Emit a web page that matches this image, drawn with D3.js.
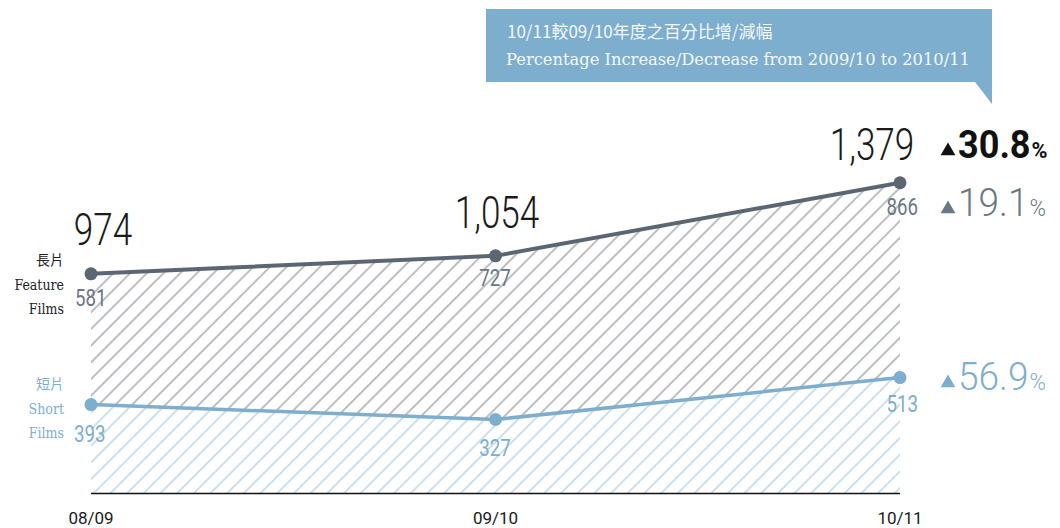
<!DOCTYPE html>
<html>
<head>
<meta charset="utf-8">
<script src="https://cdn.jsdelivr.net/npm/d3@7"></script>
<style>
  html, body { margin: 0; padding: 0; background: #fff; }
  svg { display: block; }
</style>
</head>
<body>
<svg id="chart" width="1060" height="528"></svg>
<script>
// Film counts by year
const periods = ["08/09", "09/10", "10/11"];
const featureFilms = [581, 727, 866];
const shortFilms = [393, 327, 513];
const totals = [974, 1054, 1379];
const totalLabels = ["974", "1,054", "1,379"];
const changePct = { total: "30.8", feature: "19.1", short: "56.9" };

const DARK = "#5b6672";
const DARK_TEXT = "#6a7784";
const LIGHT = "#7eaece";
const NUM_FONT = "Roboto, 'Noto Sans', sans-serif";
const SERIF = "'DejaVu Serif', serif";

const svg = d3.select("#chart");

const x = d3.scalePoint().domain(periods).range([91, 900]);
const y = d3.scaleLinear().domain([0, 1400]).range([493, 178]);

const rows = periods.map((p, i) => ({
  p, feature: featureFilms[i], short: shortFilms[i], total: totals[i]
}));

// Hatch patterns
const defs = svg.append("defs");
function hatch(id, color) {
  const pat = defs.append("pattern")
    .attr("id", id)
    .attr("patternUnits", "userSpaceOnUse")
    .attr("width", 11.8).attr("height", 11.8)
    .attr("patternTransform", "rotate(45)");
  pat.append("line")
    .attr("x1", 2).attr("y1", 0).attr("x2", 2).attr("y2", 11.8)
    .attr("stroke", color).attr("stroke-width", 0.8);
}
hatch("hatchDark", "#56616d");
hatch("hatchLight", "#7fb0d0");

// Stacked areas
svg.append("path")
  .datum(rows)
  .attr("fill", "url(#hatchDark)")
  .attr("d", d3.area().x(d => x(d.p)).y0(d => y(d.short)).y1(d => y(d.total)));
svg.append("path")
  .datum(rows)
  .attr("fill", "url(#hatchLight)")
  .attr("d", d3.area().x(d => x(d.p)).y0(y(0)).y1(d => y(d.short)));

// Baseline
svg.append("line")
  .attr("x1", x(periods[0])).attr("x2", x(periods[2]))
  .attr("y1", y(0) + 0.5).attr("y2", y(0) + 0.5)
  .attr("stroke", "#111").attr("stroke-width", 1.5);

// Lines and dots
svg.append("path").datum(rows)
  .attr("fill", "none").attr("stroke", DARK).attr("stroke-width", 4)
  .attr("d", d3.line().x(d => x(d.p)).y(d => y(d.total)));
svg.append("path").datum(rows)
  .attr("fill", "none").attr("stroke", LIGHT).attr("stroke-width", 3.5)
  .attr("d", d3.line().x(d => x(d.p)).y(d => y(d.short)));
svg.selectAll(".dotT").data(rows).enter().append("circle")
  .attr("cx", d => x(d.p)).attr("cy", d => y(d.total)).attr("r", 6.5).attr("fill", DARK);
svg.selectAll(".dotS").data(rows).enter().append("circle")
  .attr("cx", d => x(d.p)).attr("cy", d => y(d.short)).attr("r", 6.5).attr("fill", LIGHT);

// Condensed number text helper
function num(txt, px, py, size, color, anchor, weight, sx) {
  const g = svg.append("g").attr("transform", `translate(${px},${py}) scale(${sx || 0.8},1)`);
  return g.append("text")
    .attr("text-anchor", anchor)
    .attr("font-family", NUM_FONT)
    .attr("font-weight", weight || 300)
    .attr("font-size", size)
    .attr("fill", color)
    .text(txt);
}

// Total labels
const totalPos = [[103, 245, "middle"], [497, 228, "middle"], [872, 160, "middle"]];
totalLabels.forEach((t, i) => num(t, totalPos[i][0], totalPos[i][1], 45, "#1a1a1a", totalPos[i][2], 300, 0.78));

// Feature labels
const featPos = [[75, 306, "start"], [495, 286, "middle"], [918, 215, "end"]];
featureFilms.forEach((v, i) => num(String(v), featPos[i][0], featPos[i][1], 24, DARK_TEXT, featPos[i][2], 400, 0.78));

// Short labels
const shortPos = [[74, 442, "start"], [495, 456, "middle"], [918, 412, "end"]];
shortFilms.forEach((v, i) => num(String(v), shortPos[i][0], shortPos[i][1], 24, LIGHT, shortPos[i][2], 400, 0.78));

// Series names
function seriesName(lines, ys, color) {
  lines.forEach((l, i) => {
    svg.append("text")
      .attr("x", 64).attr("y", ys[i])
      .attr("text-anchor", "end")
      .attr("font-family", i === 0 ? "'Noto Sans CJK TC', sans-serif" : "'DejaVu Serif Condensed', serif")
      .attr("font-size", 14)
      .attr("fill", color)
      .text(l);
  });
}
seriesName(["長片", "Feature", "Films"], [265, 290, 314], "#222");
seriesName(["短片", "Short", "Films"], [389, 414, 438], LIGHT);

// X axis labels
svg.selectAll(".xl").data(periods).enter().append("text")
  .attr("x", d => x(d)).attr("y", 524)
  .attr("text-anchor", "middle")
  .attr("font-family", NUM_FONT)
  .attr("font-size", 17)
  .attr("fill", "#1a1a1a")
  .text(d => d);

// Percentage changes
function pct(val, px, py, size, color, weight, sx) {
  svg.append("path")
    .attr("d", d3.symbol().type(d3.symbolTriangle).size(95)())
    .attr("transform", `translate(${px + 7},${py - 7})`)
    .attr("fill", color);
  const g = svg.append("g").attr("transform", `translate(${px + 17},${py}) scale(${sx},1)`);
  const t = g.append("text")
    .attr("font-family", NUM_FONT)
    .attr("font-weight", weight)
    .attr("font-size", size)
    .attr("fill", color);
  t.append("tspan").text(val);
  t.append("tspan").attr("font-size", size * 0.6).attr("dx", 1).text("%");
}
pct(changePct.total, 941, 158, 38, "#111", 700, 0.95);
pct(changePct.feature, 941, 216, 39, DARK_TEXT, 300, 0.95);
pct(changePct.short, 941, 390, 39, LIGHT, 300, 0.95);

// Callout banner
const bx0 = 486, bx1 = 992, by0 = 9, by1 = 82;
svg.append("path")
  .attr("d", `M${bx0},${by0}H${bx1}V104L975,${by1}H${bx0}Z`)
  .attr("fill", "#7eaece");
svg.append("text")
  .attr("x", 507).attr("y", 38)
  .attr("font-family", "'Noto Sans CJK TC', sans-serif")
  .attr("font-size", 17)
  .attr("fill", "#f4f8fb")
  .text("10/11較09/10年度之百分比增/減幅");
svg.append("text")
  .attr("x", 506).attr("y", 65)
  .attr("font-family", SERIF)
  .attr("font-size", 16.5)
  .attr("fill", "#f4f8fb")
  .attr("textLength", 464)
  .attr("lengthAdjust", "spacingAndGlyphs")
  .text("Percentage Increase/Decrease from 2009/10 to 2010/11");
</script>
</body>
</html>
